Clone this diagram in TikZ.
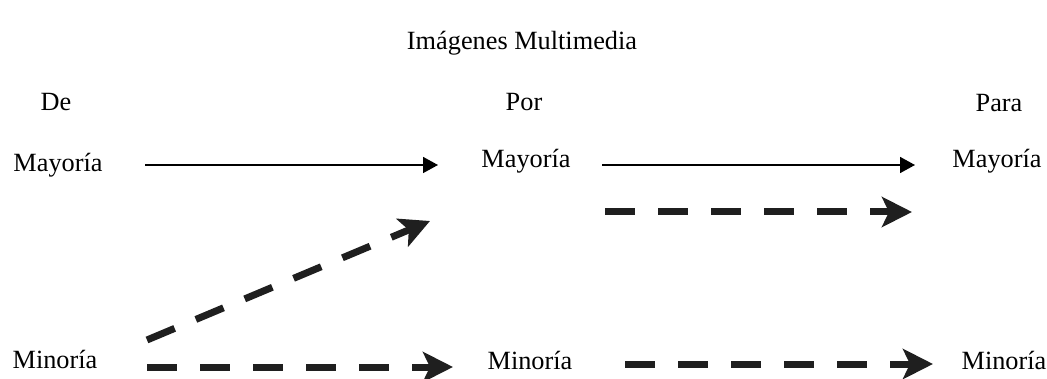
\documentclass[tikz,border=0pt]{standalone}
\usepackage{fontspec}
\setmainfont{Liberation Serif}
\usepackage{tikz}
\usetikzlibrary{arrows.meta}
\tikzset{
  imglbl/.style={inner sep=0pt,anchor=base,font=\fontsize{26.3}{30}\selectfont},
  imgflow/.style={-{Triangle[length=15pt,width=16pt]},draw=black,line width=1.6pt},
  imgdash/.style={-{Stealth[length=30pt,width=30pt,inset=7pt]},draw=black!88,line width=7pt,
                  dash pattern=on 30pt off 23pt},
}
\begin{document}
\begin{tikzpicture}[x=1pt,y=1pt]
  \useasboundingbox (0,0) rectangle (1047,-379);
  \node[imglbl] (T) at (522,-50) {Imágenes Multimedia};

  \node[imglbl] (D) at (56,-111) {De};
  \node[imglbl] (P) at (524,-111) {Por};
  \node[imglbl] (A) at (999,-112) {Para};

  \node[imglbl] (M1) at (58,-172) {Mayoría};
  \node[imglbl] (M2) at (526,-168) {Mayoría};
  \node[imglbl] (M3) at (997,-168) {Mayoría};
  \node[imglbl] (N1) at (55,-368) {Minoría};
  \node[imglbl] (N2) at (530,-370) {Minoría};
  \node[imglbl] (N3) at (1004,-370) {Minoría};

  % arrow ends
  \coordinate (a1) at (145,-165);  \coordinate (b1) at (438,-165);
  \coordinate (a2) at (602,-165);  \coordinate (b2) at (915,-165);
  \coordinate (a3) at (605,-212);  \coordinate (b3) at (912,-212);
  \coordinate (a4) at (147,-340);  \coordinate (b4) at (430,-221);
  \coordinate (a5) at (147,-367);  \coordinate (b5) at (453,-367);
  \coordinate (a6) at (625,-364);  \coordinate (b6) at (933,-364);

  \draw[imgflow] (a1) -- (b1);
  \draw[imgflow] (a2) -- (b2);
  \draw[imgdash] (a3) -- (b3);
  \draw[imgdash] (a4) -- (b4);
  \draw[imgdash] (a5) -- (b5);
  \draw[imgdash] (a6) -- (b6);
\end{tikzpicture}
\end{document}
